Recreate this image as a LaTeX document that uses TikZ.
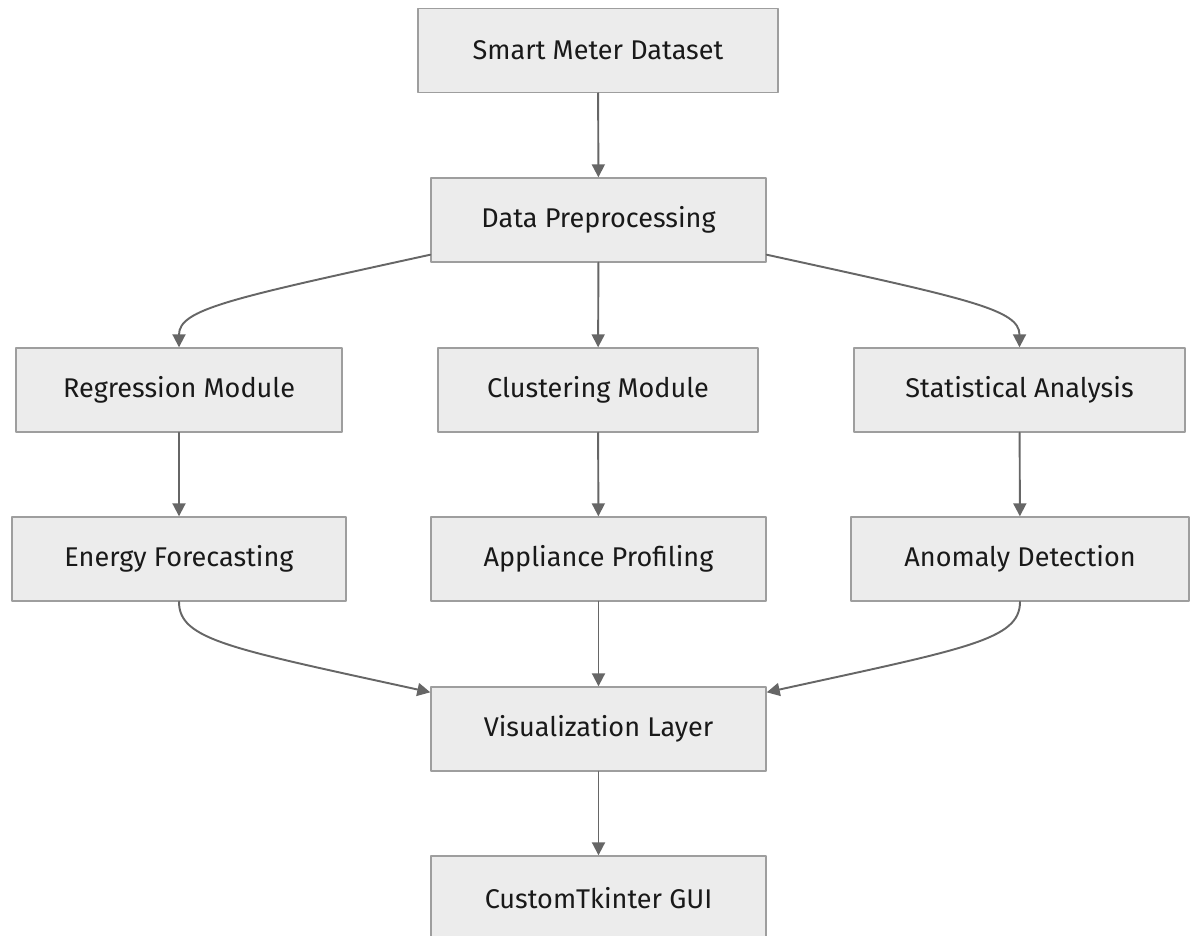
\documentclass[tikz,border=0pt]{standalone}
\usepackage{fontspec}
\setmainfont{Fira Sans}
\usetikzlibrary{arrows.meta}
\definecolor{boxfill}{HTML}{ECECEC}
\definecolor{boxline}{HTML}{9E9E9E}
\definecolor{linkline}{HTML}{666666}

\begin{document}
\begin{tikzpicture}[line cap=round, line join=round,
	block/.style={draw=boxline, fill=boxfill, line width=0.8pt, minimum height=1.68cm, inner sep=0pt, text=black!90, font=\fontsize{15.4}{18}\selectfont},
	link/.style={draw=linkline, line width=1.1pt, -{Triangle[length=0.26cm, width=0.26cm]}}]
	\useasboundingbox (0,0) rectangle (23.88,-18.70);
	\node[block, minimum width=7.20cm] (dataset) at (11.96,-1.01) {Smart Meter Dataset};
	\node[block, minimum width=6.70cm] (prep) at (11.97,-4.40) {Data Preprocessing};
	\node[block, minimum width=6.52cm] (regr) at (3.58,-7.80) {Regression Module};
	\node[block, minimum width=6.40cm] (clust) at (11.96,-7.80) {Clustering Module};
	\node[block, minimum width=6.62cm] (stat) at (20.39,-7.80) {Statistical Analysis};
	\node[block, minimum width=6.68cm] (forecast) at (3.58,-11.18) {Energy Forecasting};
	\node[block, minimum width=6.70cm] (profile) at (11.97,-11.18) {Appliance Profiling};
	\node[block, minimum width=6.76cm] (anomaly) at (20.40,-11.18) {Anomaly Detection};
	\node[block, minimum width=6.70cm] (vis) at (11.97,-14.58) {Visualization Layer};
	\node[block, minimum width=6.70cm] (gui) at (11.97,-17.96) {CustomTkinter GUI};
	\draw[link] (dataset) -- (prep);
	\draw[link] ([yshift=0.16cm]prep.south west) .. controls +(-4.02,-0.88) and +(0,0.76) .. (regr.north);
	\draw[link] (prep) -- (clust);
	\draw[link] ([yshift=0.16cm]prep.south east) .. controls +(4.02,-0.88) and +(0,0.76) .. (stat.north);
	\draw[link] (regr) -- (forecast);
	\draw[link] (clust) -- (profile);
	\draw[link] (stat) -- (anomaly);
	\draw[link] (forecast.south) .. controls +(0,-0.76) and +(-4.02,0.88) .. ([yshift=-0.12cm]vis.north west);
	\draw[link] (profile) -- (vis);
	\draw[link] (anomaly.south) .. controls +(0,-0.76) and +(4.02,0.88) .. ([yshift=-0.12cm]vis.north east);
	\draw[link] (vis) -- (gui);
\end{tikzpicture}
\end{document}
